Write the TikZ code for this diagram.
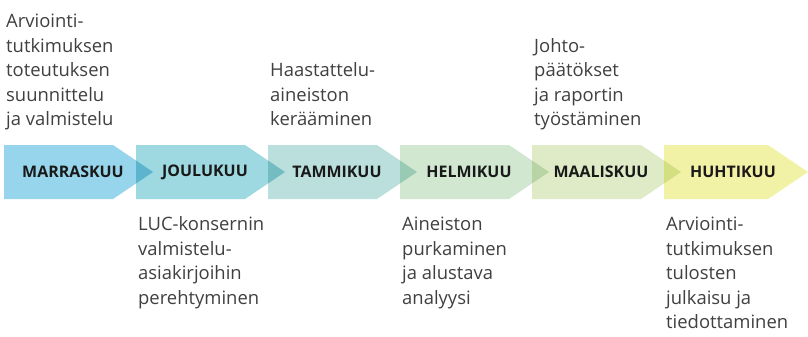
\documentclass[tikz,border=0pt]{standalone}
\usepackage{fontspec}
\setmainfont{Open Sans}
\usetikzlibrary{positioning}
\definecolor{kuu1}{HTML}{97D5EC}
\definecolor{kuu2}{HTML}{9ED8E0}
\definecolor{kuu3}{HTML}{BADFDC}
\definecolor{kuu4}{HTML}{D2E7D0}
\definecolor{kuu5}{HTML}{DFEBC7}
\definecolor{kuu6}{HTML}{F2F2A6}
\tikzset{
  kuu/.style={font=\bfseries\fontsize{16}{16}\selectfont, text=black!90, inner sep=0pt},
  vaihe/.style={align=left, inner sep=0pt, text=black!75, font=\fontsize{18.5}{24.6}\selectfont},
}
\begin{document}
\begin{tikzpicture}[x=1bp,y=-1bp]
\useasboundingbox (0,0) rectangle (808,336);
%Nuolet
\begin{scope}[blend group=multiply]
\foreach \i/\c/\k in {0/kuu1/153,1/kuu2/153,2/kuu3/153,3/kuu4/153,4/kuu5/153,5/kuu6/148}{
  \fill[\c] ({4+132*\i},145) -- ({\k-40+132*\i},145) -- ({\k+132*\i},172) -- ({\k-40+132*\i},199) -- ({4+132*\i},199) -- cycle;
}
\end{scope}

%Kuukaudet
\node (marras) at (73,172) [kuu] {MARRASKUU};
\node (joulu) at (205,172) [kuu] {JOULUKUU};
\node (tammi) at (337,172) [kuu] {TAMMIKUU};
\node (helmi) at (469,172) [kuu] {HELMIKUU};
\node (maalis) at (601,172) [kuu] {MAALISKUU};
\node (huhti) at (733,172) [kuu] {HUHTIKUU};

%Ylapuolen vaiheet
\node (suunn) at (6,133.4) [vaihe,anchor=south west] {Arviointi-\\tutkimuksen\\toteutuksen\\suunnittelu\\ja valmistelu\strut};
\node (haast) at (270,133.4) [vaihe,anchor=south west] {Haastattelu-\\aineiston\\kerääminen\strut};
\node (johto) at (534,133.4) [vaihe,anchor=south west] {Johto-\\päätökset\\ja raportin\\työstäminen\strut};

%Alapuolen vaiheet
\node (luc) at (138,213.3) [vaihe,anchor=north west] {\strut LUC-konsernin\\valmistelu-\\asiakirjoihin\\perehtyminen};
\node (aineisto) at (402,213.3) [vaihe,anchor=north west] {\strut Aineiston\\purkaminen\\ja alustava\\analyysi};
\node (tulos) at (666,213.3) [vaihe,anchor=north west] {\strut Arviointi-\\tutkimuksen\\tulosten\\julkaisu ja\\tiedottaminen};
\end{tikzpicture}
\end{document}
